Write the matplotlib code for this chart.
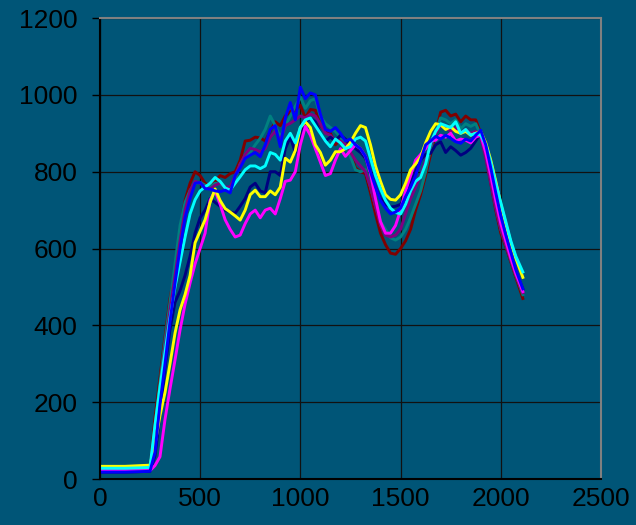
import matplotlib
matplotlib.use('Agg')
import matplotlib.pyplot as plt

# x positions shared by every series
x = [0, 125, 250, 275, 300, 325, 350, 375, 400, 425,
     450, 475, 500, 525, 550, 575, 600, 625, 650, 675,
     700, 725, 750, 775, 800, 825, 850, 875, 900, 925,
     950, 975, 1000, 1025, 1050, 1075, 1100, 1125, 1150, 1175,
     1200, 1225, 1250, 1275, 1300, 1325, 1350, 1375, 1400, 1425,
     1450, 1475, 1500, 1525, 1550, 1575, 1600, 1625, 1650, 1675,
     1700, 1725, 1750, 1775, 1800, 1825, 1850, 1875, 1900, 1925,
     1950, 1975, 2000, 2025, 2050, 2075, 2110]

dark_red = [22, 22, 24, 160, 265, 370, 470, 540, 650, 725,
            770, 800, 790, 770, 762, 775, 790, 785, 795, 800,
            830, 880, 882, 890, 888, 880, 905, 930, 920, 945,
            956, 960, 973, 940, 962, 960, 921, 905, 900, 870,
            885, 880, 850, 810, 800, 795, 745, 690, 640, 610,
            588, 585, 600, 620, 650, 700, 740, 790, 845, 900,
            955, 960, 945, 950, 930, 945, 935, 935, 900, 840,
            770, 700, 640, 605, 565, 525, 470]

teal = [20, 20, 22, 140, 250, 360, 460, 560, 660, 720,
        752, 770, 772, 765, 760, 770, 768, 760, 752, 780,
        820, 840, 850, 870, 887, 910, 945, 920, 890, 920,
        945, 970, 995, 965, 985, 990, 945, 925, 915, 905,
        890, 870, 840, 805, 800, 805, 760, 710, 670, 650,
        628, 622, 630, 650, 680, 715, 750, 800, 860, 905,
        940, 935, 925, 935, 912, 925, 918, 925, 895, 845,
        780, 710, 650, 610, 570, 530, 480]

purple = [20, 20, 22, 120, 230, 340, 440, 530, 620, 700,
          750, 775, 770, 760, 755, 765, 770, 760, 760, 790,
          820, 845, 861, 858, 852, 860, 890, 905, 880, 920,
          926, 935, 945, 940, 950, 945, 925, 900, 895, 880,
          880, 870, 850, 830, 815, 800, 760, 710, 660, 635,
          630, 635, 650, 690, 730, 760, 790, 830, 870, 900,
          920, 915, 905, 915, 900, 910, 900, 905, 890, 835,
          770, 705, 650, 610, 570, 530, 485]

navy = [18, 18, 20, 60, 170, 290, 390, 460, 490, 530,
        580, 640, 680, 700, 730, 720, 710, 700, 695, 692,
        710, 730, 760, 770, 750, 745, 800, 800, 790, 860,
        890, 850, 900, 930, 940, 930, 900, 880, 890, 880,
        895, 885, 870, 860, 850, 835, 800, 760, 730, 715,
        708, 710, 715, 735, 770, 800, 830, 845, 848, 870,
        878, 850, 865, 855, 843, 850, 861, 880, 900, 860,
        795, 730, 670, 625, 580, 540, 495]

magenta = [22, 22, 22, 35, 58, 155, 235, 310, 388, 455,
           510, 560, 600, 640, 726, 750, 715, 675, 650, 630,
           635, 665, 690, 700, 680, 700, 705, 690, 730, 775,
           778, 800, 870, 918, 895, 860, 825, 790, 795, 830,
           860, 840, 855, 870, 860, 840, 795, 730, 670, 640,
           640, 660, 700, 750, 790, 830, 845, 860, 880, 882,
           895, 890, 900, 880, 885, 882, 875, 890, 895, 850,
           790, 725, 665, 620, 575, 535, 488]

yellow = [33, 33, 36, 90, 165, 225, 300, 380, 440, 480,
          530, 615, 645, 675, 720, 755, 725, 704, 695, 685,
          674, 700, 740, 752, 735, 735, 750, 740, 760, 835,
          825, 855, 915, 930, 915, 870, 850, 817, 830, 852,
          852, 860, 876, 900, 920, 915, 870, 815, 775, 740,
          728, 726, 740, 770, 805, 820, 838, 875, 905, 925,
          922, 910, 917, 905, 900, 905, 895, 900, 905, 875,
          830, 775, 715, 665, 615, 575, 525]

cyan = [28, 28, 30, 140, 240, 330, 420, 500, 565, 630,
        690, 727, 750, 760, 770, 785, 775, 758, 752, 770,
        787, 805, 815, 815, 808, 815, 850, 845, 830, 880,
        900, 875, 915, 935, 940, 920, 900, 880, 865, 885,
        875, 860, 865, 885, 890, 880, 835, 790, 755, 725,
        705, 694, 690, 715, 750, 775, 785, 820, 875, 905,
        925, 920, 915, 930, 900, 910, 895, 900, 895, 870,
        825, 770, 720, 670, 620, 580, 539]

blue = [18, 18, 20, 70, 195, 300, 410, 510, 600, 680,
        730, 770, 772, 756, 755, 750, 748, 752, 745, 790,
        810, 835, 843, 850, 839, 870, 910, 920, 865, 940,
        980, 935, 1020, 990, 1005, 1000, 950, 910, 905, 915,
        900, 880, 885, 870, 860, 840, 800, 760, 725, 705,
        690, 695, 705, 735, 760, 790, 830, 870, 880, 892,
        885, 895, 887, 878, 874, 885, 880, 895, 908, 870,
        810, 745, 685, 635, 590, 545, 495]

series = [
    (dark_red, '#800000'),
    (teal, '#008080'),
    (purple, '#800080'),
    (navy, '#000080'),
    (magenta, '#FF00FF'),
    (yellow, '#FFFF00'),
    (cyan, '#00FFFF'),
    (blue, '#0000FF'),
]

bg = '#005577'
plt.rcParams['font.family'] = ['Liberation Sans', 'DejaVu Sans']

fig = plt.figure(figsize=(6.36, 5.25), dpi=100, facecolor=bg)
ax = fig.add_axes([0.157, 0.0876, 0.788, 0.878])
ax.set_facecolor(bg)

for vals, col in series:
    ax.plot(x, vals, color=col, linewidth=2.1)

ax.set_xlim(0, 2500)
ax.set_ylim(0, 1200)
ax.set_xticks(range(0, 2501, 500))
ax.set_yticks(range(0, 1201, 200))
ax.grid(True, color='#111111', linewidth=0.9)
ax.set_axisbelow(True)

ax.spines['left'].set_color('black')
ax.spines['bottom'].set_color('black')
ax.spines['top'].set_color('#808080')
ax.spines['right'].set_color('#808080')
for s in ax.spines.values():
    s.set_linewidth(1.5)

ax.tick_params(axis='y', direction='out', length=6, width=1, color='black',
               labelsize=19, labelcolor='black', pad=10)
ax.tick_params(axis='x', direction='out', length=0, labelsize=19,
               labelcolor='black', pad=6)

plt.savefig('out.png', dpi=100, facecolor=bg)
